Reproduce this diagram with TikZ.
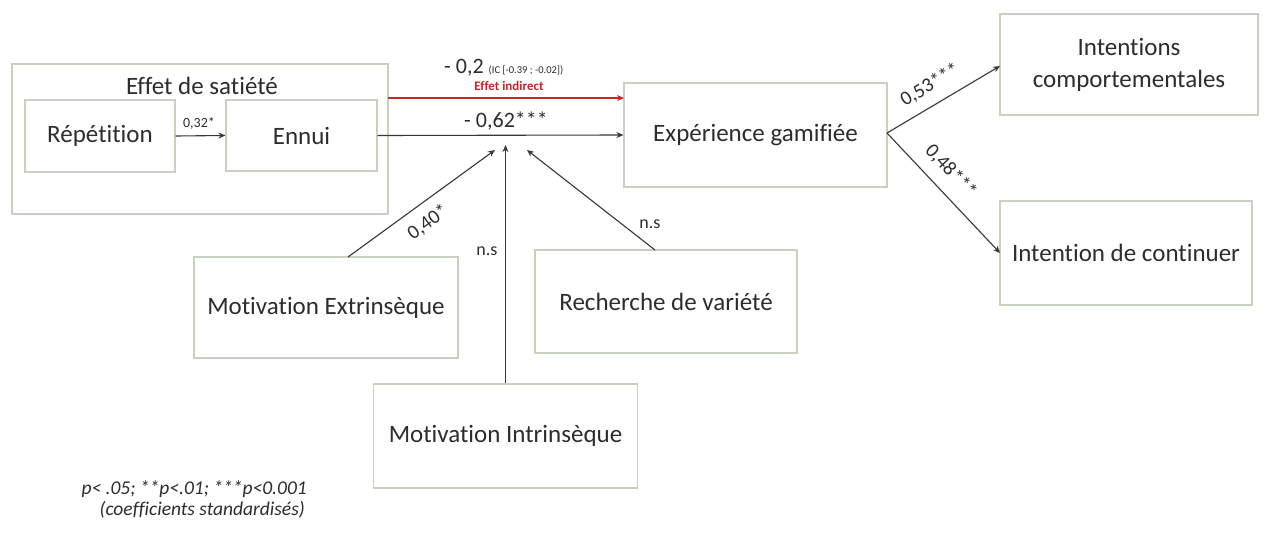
\documentclass[tikz,border=0pt]{standalone}
\usepackage{fontspec}
\setmainfont{Carlito}[Ligatures=NoCommon]
\usetikzlibrary{arrows.meta}
\definecolor{boxline}{RGB}{200,208,190}
\definecolor{txt}{RGB}{45,45,45}
\definecolor{arr}{RGB}{55,55,55}
\definecolor{redarr}{RGB}{205,35,40}
\begin{document}
\begin{tikzpicture}[x=1pt,y=-1pt,
  box/.style={draw=boxline, line width=1.2pt, rectangle, inner sep=0pt, align=center, text=txt,
    font=\fontsize{25}{32}\selectfont},
  conn/.style={draw=arr, line width=1.1pt, -{Stealth[length=7pt,width=6pt]}},
  lbl/.style={text=txt, inner sep=1pt}]
\useasboundingbox (0,0) rectangle (1266,554);
\fill[white] (0,0) rectangle (1266,554);
% boxes
\node[box, minimum width=376pt, minimum height=150pt] (sat) at (200,139) {};
\node[lbl, font=\fontsize{25}{30}\selectfont] (sattitle) at (202,86) {Effet de satiété};
\node[box, minimum width=150pt, minimum height=72pt] (rep) at (100,136) {Répétition};
\node[box, minimum width=151pt, minimum height=71pt] (ennui) at (301.5,135.5) {Ennui};
\node[box, minimum width=263pt, minimum height=104pt] (exp) at (755.5,135) {Expérience gamifiée};
\node[box, minimum width=258pt, minimum height=101pt] (ic) at (1129,64.5) {Intentions\\comportementales};
\node[box, minimum width=252pt, minimum height=104pt] (ic2) at (1126,253) {Intention de continuer};
\node[box, minimum width=264pt, minimum height=101pt] (mext) at (326,307.5) {Motivation Extrinsèque};
\node[box, minimum width=264pt, minimum height=104pt] (mint) at (505.5,436) {Motivation Intrinsèque};
\node[box, minimum width=262pt, minimum height=103pt] (rvar) at (666,301.5) {Recherche de variété};
% coordinates
\coordinate (redstart) at (388,98);
\coordinate (redend) at (624,98);
\coordinate (mod1) at (495,150);
\coordinate (mod2) at (505.5,145);
\coordinate (mod3) at (527,150);
\coordinate (mextout) at (348,257);
\coordinate (rvarout) at (655,250);
\coordinate (expout) at (887,133);
\coordinate (icin) at (1000,66);
\coordinate (ic2in) at (1000,253);
% connectors
\draw[conn] (rep.east) -- (ennui.west);
\node[lbl, font=\fontsize{14}{17}\selectfont] (l032) at (199,123) {0,32*};
\draw[conn, draw=redarr, line width=1.6pt] (redstart) -- (redend);
\node[lbl, anchor=base west, font=\fontsize{22}{26}\selectfont] (l02) at (443,73) {- 0,2 {\fontsize{10.5}{12}\selectfont (IC [-0.39 ; -0.02])}};
\node[lbl, text=redarr, font=\bfseries\fontsize{13}{15}\selectfont] (leff) at (509,86) {Effet indirect};
\draw[conn] (ennui.east) -- (exp.west);
\node[lbl, font=\fontsize{22}{26}\selectfont] (l062) at (506,121) {- 0,62***};
\draw[conn] (mextout) -- (mod1);
\draw[conn] (mint.north) -- (mod2);
\draw[conn] (rvarout) -- (mod3);
\node[lbl, rotate=36, font=\fontsize{20}{24}\selectfont] (l040) at (428,222) {0,40*};
\node[lbl, font=\fontsize{18}{22}\selectfont] (lns1) at (487,251) {n.s};
\node[lbl, font=\fontsize{18}{22}\selectfont] (lns2) at (650,224) {n.s};
\draw[conn] (expout) -- (icin);
\draw[conn] (expout) -- (ic2in);
\node[lbl, rotate=31, font=\fontsize{20}{24}\selectfont] (l053) at (930,85) {0,53***};
\node[lbl, rotate=-47, font=\fontsize{20}{24}\selectfont] (l048) at (951,171) {0,48***};
% footer
\node[lbl, anchor=east, font=\itshape\fontsize{19.5}{23}\selectfont] (f1) at (308,489) {p< .05; **p<.01; ***p<0.001};
\node[lbl, anchor=east, font=\itshape\fontsize{19.5}{23}\selectfont] (f2) at (306,510) {(coefficients standardisés)};
\end{tikzpicture}
\end{document}
